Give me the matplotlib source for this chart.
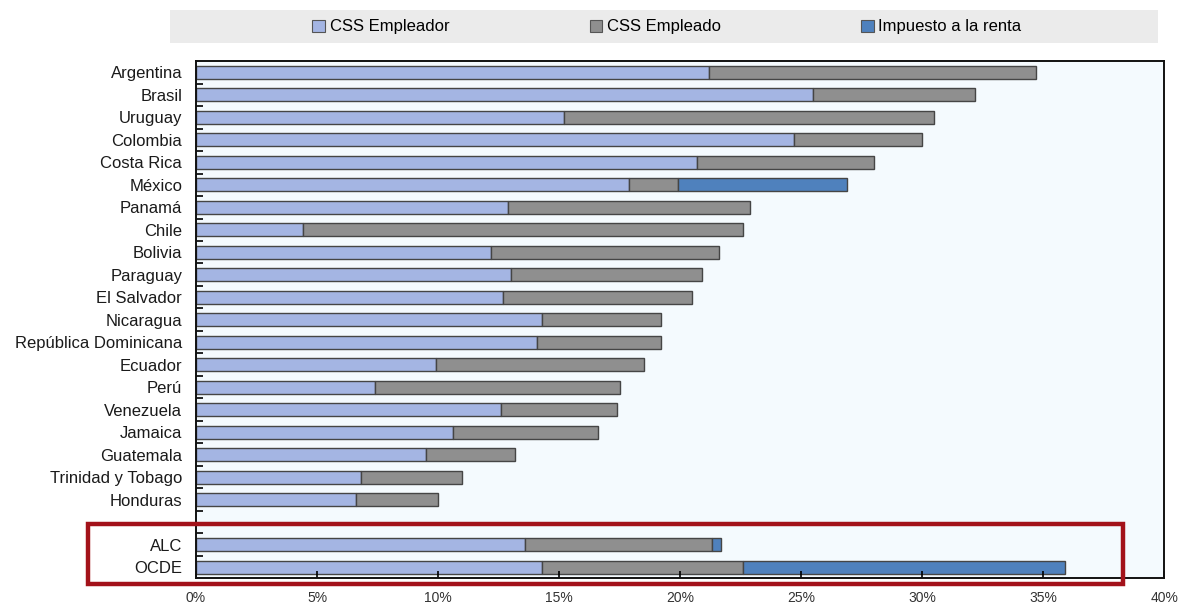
import matplotlib
matplotlib.use("Agg")
import matplotlib.pyplot as plt
import numpy as np
from matplotlib.patches import Patch, Rectangle
from matplotlib.ticker import FuncFormatter, MultipleLocator

plt.rcParams['font.family'] = ['Liberation Sans', 'DejaVu Sans']

# Cuñas fiscales sobre el salario, en % (componentes apilados)
countries = ["Argentina", "Brasil", "Uruguay", "Colombia", "Costa Rica", "México",
             "Panamá", "Chile", "Bolivia", "Paraguay", "El Salvador", "Nicaragua",
             "República Dominicana", "Ecuador", "Perú", "Venezuela", "Jamaica",
             "Guatemala", "Trinidad y Tobago", "Honduras"]
aggregates = ["ALC", "OCDE"]

css_empleador = [21.2, 25.5, 15.2, 24.7, 20.7, 17.9, 12.9, 4.4, 12.2, 13.0, 12.7,
                 14.3, 14.1, 9.9, 7.4, 12.6, 10.6, 9.5, 6.8, 6.6,
                 13.6, 14.3]
css_empleado = [13.5, 6.7, 15.3, 5.3, 7.3, 2.0, 10.0, 18.2, 9.4, 7.9, 7.8,
                4.9, 5.1, 8.6, 10.1, 4.8, 6.0, 3.7, 4.2, 3.4,
                7.7, 8.3]
impuesto_renta = [0, 0, 0, 0, 0, 7.0, 0, 0, 0, 0, 0,
                  0, 0, 0, 0, 0, 0, 0, 0, 0,
                  0.4, 13.3]

series_names = ["CSS Empleador", "CSS Empleado", "Impuesto a la renta"]
colors = ["#A4B5E3", "#8F8F8F", "#4F81BD"]

labels = countries + aggregates
# one empty row separates the countries from the regional averages
ypos = np.r_[np.arange(len(countries)), len(countries) + 1 + np.arange(len(aggregates))]

emp = np.array(css_empleador)
ee = np.array(css_empleado)
tax = np.array(impuesto_renta)

fig = plt.figure(figsize=(11.83, 6.06), dpi=100)
ax = fig.add_axes([0.1657, 0.0462, 0.8183, 0.8531])
ax.set_facecolor("#F4FAFE")

bh = 0.56
edge = dict(edgecolor="#454545", linewidth=1.0)
ax.barh(ypos, emp, height=bh, color=colors[0], **edge)
ax.barh(ypos, ee, left=emp, height=bh, color=colors[1], **edge)
has_tax = tax > 0
ax.barh(ypos[has_tax], tax[has_tax], left=(emp + ee)[has_tax], height=bh,
        color=colors[2], **edge)

ax.set_xlim(0, 40)
ax.set_ylim(ypos[-1] + 0.48, -0.5)

ax.xaxis.set_major_locator(MultipleLocator(5))
ax.xaxis.set_major_formatter(FuncFormatter(lambda v, p: f"{v:.0f}%"))
ax.tick_params(axis="x", direction="in", length=5, width=1.2, pad=9,
               labelsize=10, labelcolor="#333333")

ax.set_yticks(ypos)
ax.set_yticklabels(labels)
ax.set_yticks(np.arange(0.5, ypos[-1], 1.0), minor=True)
ax.tick_params(axis="y", which="major", length=0, pad=10, labelsize=12,
               labelcolor="#1A1A1A")
ax.tick_params(axis="y", which="minor", direction="in", length=5, width=1.2)

for sp in ax.spines.values():
    sp.set_color("#111111")
    sp.set_linewidth(1.4)

# legend band across the top
fig.patches.append(Rectangle((170 / 1183, 1 - 43 / 606), 988 / 1183, 33 / 606,
                             transform=fig.transFigure, facecolor="#EBEBEB",
                             edgecolor="none", zorder=0))
handles = [Patch(facecolor=c, edgecolor="#555555", linewidth=0.8) for c in colors]
fig.legend(handles, series_names, ncol=3, frameon=False, loc="center",
           bbox_to_anchor=(667 / 1183, 1 - 27 / 606), fontsize=12,
           handlelength=0.75, handleheight=0.75, handletextpad=0.3,
           columnspacing=8.4)

# highlight box around the regional averages
fig.patches.append(Rectangle((88 / 1183, 1 - 584 / 606), 1035 / 1183, 60 / 606,
                             transform=fig.transFigure, facecolor="none",
                             edgecolor="#A3121A", linewidth=3.2, zorder=10))

fig.savefig("out.png", dpi=100)
